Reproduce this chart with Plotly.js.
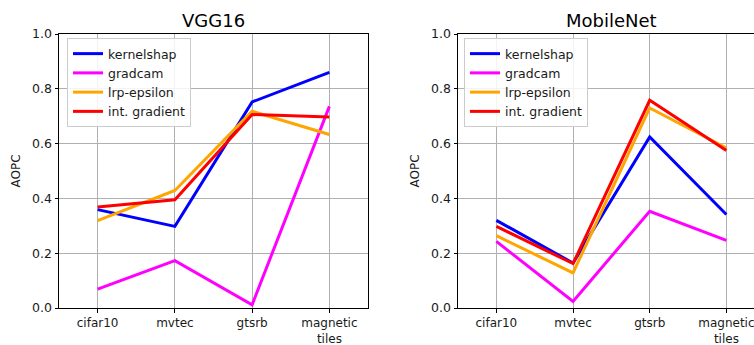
<!DOCTYPE html>
<html>
<head>
<meta charset="utf-8">
<script src="https://cdn.plot.ly/plotly-3.0.1.min.js"></script>
<style>html,body{margin:0;padding:0;background:#fff;}#chart{width:754px;height:345px;}</style>
</head>
<body>
<div id="chart"></div>
<script>
const categories = ['cifar10', 'mvtec', 'gtsrb', 'magnetic<br>tiles'];
const methods = ['kernelshap', 'gradcam', 'lrp-epsilon', 'int. gradient'];
const colors = ['#0000ff', '#ff00ff', '#ffa500', '#ff0000'];

// VGG16 AOPC values
const vgg_kernelshap = [0.359, 0.298, 0.752, 0.860];
const vgg_gradcam = [0.069, 0.173, 0.012, 0.736];
const vgg_lrp = [0.319, 0.429, 0.718, 0.633];
const vgg_intgrad = [0.369, 0.395, 0.706, 0.697];

// MobileNet AOPC values
const mob_kernelshap = [0.320, 0.164, 0.624, 0.341];
const mob_gradcam = [0.243, 0.024, 0.353, 0.247];
const mob_lrp = [0.264, 0.128, 0.730, 0.584];
const mob_intgrad = [0.298, 0.162, 0.758, 0.575];

const vggSeries = [vgg_kernelshap, vgg_gradcam, vgg_lrp, vgg_intgrad];
const mobSeries = [mob_kernelshap, mob_gradcam, mob_lrp, mob_intgrad];

const W = 754, H = 345;
const traces = [];
vggSeries.forEach((ys, i) => traces.push({
  x: categories, y: ys, type: 'scatter', mode: 'lines', name: methods[i],
  line: {color: colors[i], width: 3}, xaxis: 'x', yaxis: 'y', legend: 'legend'
}));
mobSeries.forEach((ys, i) => traces.push({
  x: categories, y: ys, type: 'scatter', mode: 'lines', name: methods[i],
  line: {color: colors[i], width: 3}, xaxis: 'x2', yaxis: 'y2', legend: 'legend2'
}));

const font = {family: 'DejaVu Sans, sans-serif', size: 12.5, color: '#1a1a1a'};
const xfont = {family: 'DejaVu Sans, sans-serif', size: 12, color: '#1a1a1a'};
const yBottom = 1 - 308 / H, yTop = 1 - 34 / H;

function xax(domain, range, anchor) {
  return {
    type: 'category', domain: domain, range: range, anchor: anchor,
    showgrid: true, gridcolor: '#b0b0b0', gridwidth: 1,
    showline: true, linecolor: '#000', linewidth: 1, mirror: true,
    ticks: 'outside', ticklen: 3.5, tickwidth: 1, tickcolor: '#000',
    tickfont: xfont, zeroline: false, fixedrange: true
  };
}
function yax(anchor, mirror) {
  return {
    domain: [yBottom, yTop], range: [0, 1], anchor: anchor,
    tickvals: [0, 0.2, 0.4, 0.6, 0.8, 1.0], tickformat: '.1f',
    showgrid: true, gridcolor: '#b0b0b0', gridwidth: 1,
    showline: true, linecolor: '#000', linewidth: 1, mirror: mirror,
    ticks: 'outside', ticklen: 3.5, tickwidth: 1, tickcolor: '#000',
    tickfont: font, zeroline: false, fixedrange: true,
    title: {text: 'AOPC', font: xfont, standoff: 8}
  };
}

const legendBase = {
  font: font, bgcolor: 'rgba(255,255,255,0.85)', bordercolor: '#cccccc', borderwidth: 1,
  xanchor: 'left', yanchor: 'top', y: 1 - 38 / H, tracegroupgap: 0
};

const layout = {
  width: W, height: H,
  margin: {l: 0, r: 0, t: 0, b: 0},
  paper_bgcolor: '#fff', plot_bgcolor: '#fff',
  font: font,
  xaxis: xax([59 / W, 368 / W], [-0.5, 3.5], 'y'),
  yaxis: yax('x', true),
  xaxis2: xax([458 / W, 1], [-0.5, 3.36], 'y2'),
  yaxis2: yax('x2', false),
  legend: Object.assign({}, legendBase, {x: 67 / W}),
  legend2: Object.assign({}, legendBase, {x: 464 / W}),
  annotations: [
    {text: 'VGG16', x: 213.5 / W, y: 1 - 20 / H, xref: 'paper', yref: 'paper',
     xanchor: 'center', yanchor: 'middle', showarrow: false,
     font: {family: 'DejaVu Sans, sans-serif', size: 18, color: '#000'}},
    {text: 'MobileNet', x: 611 / W, y: 1 - 20 / H, xref: 'paper', yref: 'paper',
     xanchor: 'center', yanchor: 'middle', showarrow: false,
     font: {family: 'DejaVu Sans, sans-serif', size: 18, color: '#000'}}
  ],
  showlegend: true
};

Plotly.newPlot('chart', traces, layout, {displayModeBar: false, staticPlot: true});
</script>
</body>
</html>
